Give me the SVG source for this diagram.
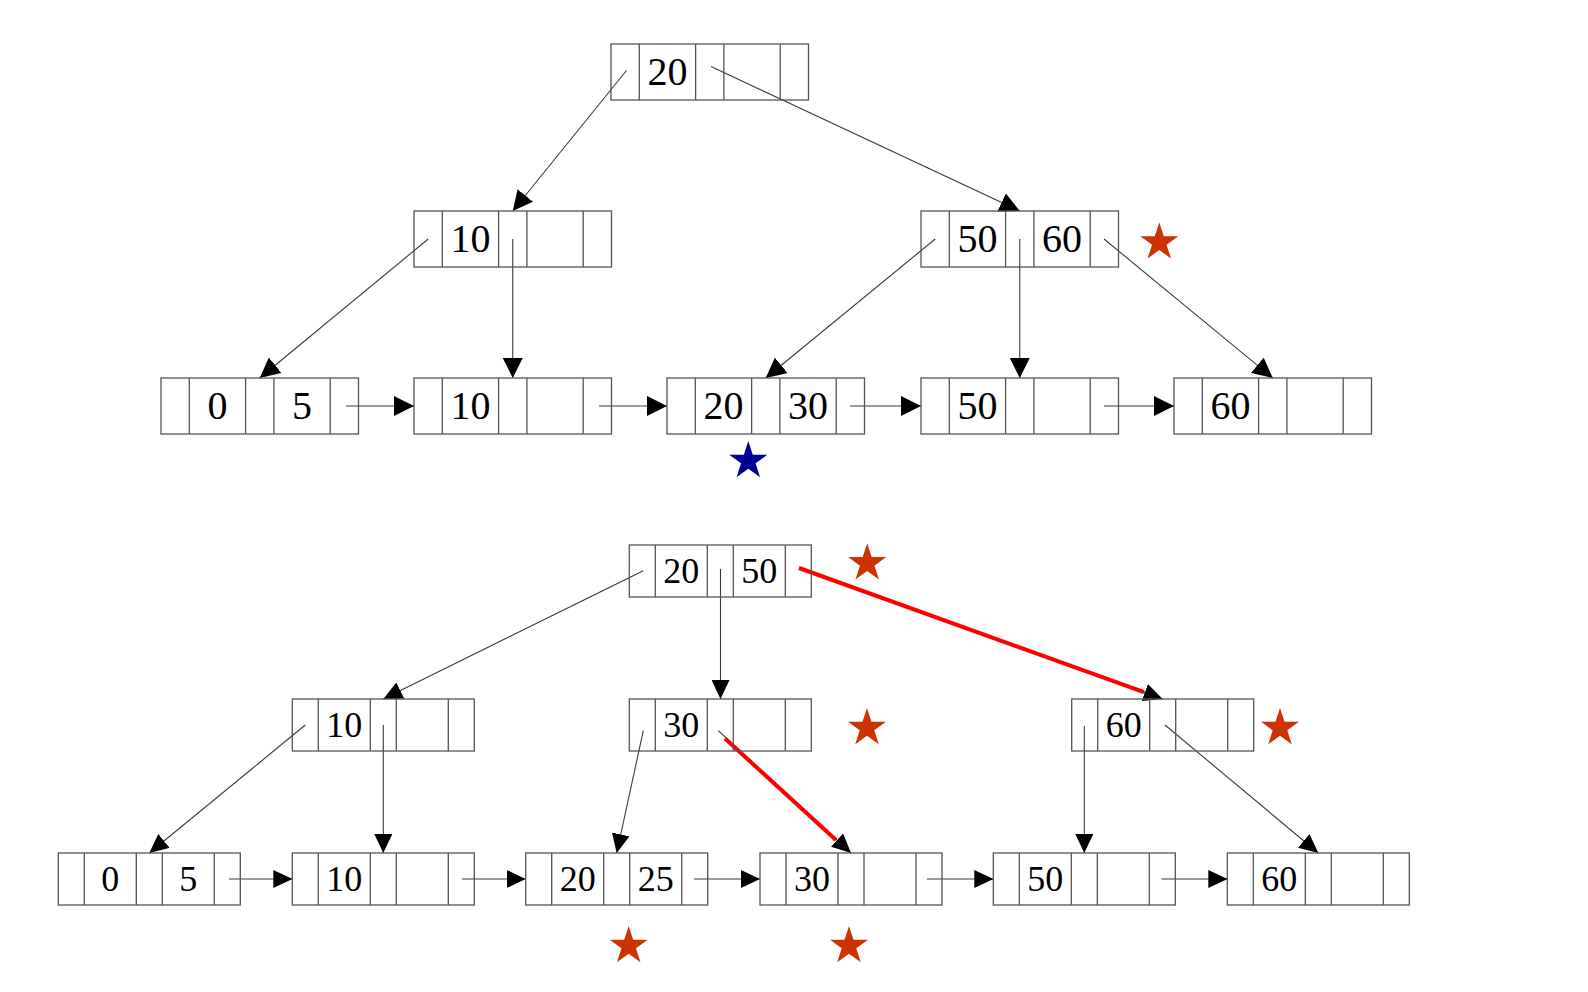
<svg xmlns="http://www.w3.org/2000/svg" xmlns:xlink="http://www.w3.org/1999/xlink" width="1588" height="992" viewBox="0 0 1588 992">
<style>
.fr{fill:none;stroke:#555;stroke-width:1.3}
.kt{font-family:"Liberation Serif","Times New Roman",serif;font-size:40px;fill:#000;text-anchor:middle}
.kb{font-family:"Liberation Serif","Times New Roman",serif;font-size:36px;fill:#000;text-anchor:middle}
.ct{fill:none;stroke:#3a3a3a;stroke-width:1.1;marker-end:url(#ahT)}
.cb{fill:none;stroke:#3a3a3a;stroke-width:1.1;marker-end:url(#ahB)}
.red{fill:none;stroke:#ff0000;stroke-width:4;stroke-linecap:butt}
.so{fill:#cc3300}
.sb{fill:#000099}
</style>
<defs>
<marker id="ahT" markerUnits="userSpaceOnUse" markerWidth="20" markerHeight="20" refX="20" refY="10" orient="auto" viewBox="0 0 20 20"><path d="M0,0 L20,10 L0,20 Z" fill="#000"/></marker>
<marker id="ahB" markerUnits="userSpaceOnUse" markerWidth="19" markerHeight="18" refX="19" refY="9" orient="auto" viewBox="0 0 19 18"><path d="M0,0 L19,9 L0,18 Z" fill="#000"/></marker>
<g id="frameT" class="fr"><rect x="0" y="0" width="197.5" height="56"/><path d="M28.3,0V56M84.6,0V56M112.9,0V56M169.2,0V56"/></g>
<g id="frameB" class="fr"><rect x="0" y="0" width="182" height="52"/><path d="M26,0V52M78,0V52M104,0V52M156,0V52"/></g>
<path id="star" d="M0,-20 L4.49,-6.18 L19.02,-6.18 L7.27,2.36 L11.76,16.18 L0,7.64 L-11.76,16.18 L-7.27,2.36 L-19.02,-6.18 L-4.49,-6.18 Z"/>
</defs>
<rect width="1588" height="992" fill="#fff"/>

<g id="connectors">
  <!-- top tree -->
  <path class="ct" d="M626.5,70.5 L512.75,211"/>
  <path class="ct" d="M711,66.5 L1019.75,211"/>
  <path class="ct" d="M428.2,239 L259.75,378"/>
  <path class="ct" d="M512.75,239 L512.75,378"/>
  <path class="ct" d="M935.2,239 L765.75,378"/>
  <path class="ct" d="M1019.75,239 L1019.75,378"/>
  <path class="ct" d="M1104,239 L1272.75,378"/>
  <path class="ct" d="M346,406 L414,406"/>
  <path class="ct" d="M599,406 L667,406"/>
  <path class="ct" d="M850,406 L921,406"/>
  <path class="ct" d="M1104,406 L1174,406"/>
  <!-- bottom tree -->
  <path class="cb" d="M643.3,570.7 L383.3,699"/>
  <path class="cb" d="M720.5,569 L720.5,699"/>
  <path class="cb" d="M799,568 L1162.7,699"/>
  <path class="cb" d="M305.3,725 L149.3,853"/>
  <path class="cb" d="M383.3,725 L383.3,853"/>
  <path class="cb" d="M643.3,730.7 L616.7,853"/>
  <path class="cb" d="M718.3,730.7 L851,853"/>
  <path class="cb" d="M1084.3,726 L1084.3,853"/>
  <path class="cb" d="M1165,725 L1318.3,853"/>
  <path class="cb" d="M229,879 L292.3,879"/>
  <path class="cb" d="M462,879 L525.7,879"/>
  <path class="cb" d="M694,879 L760,879"/>
  <path class="cb" d="M927,879 L993.3,879"/>
  <path class="cb" d="M1161.5,879 L1227.3,879"/>
  <path class="red" d="M799,568 L1144,692.2"/>
  <path class="red" d="M725,738.5 L836,840"/>
</g>

<!-- top tree nodes -->
<g id="t-root"><use xlink:href="#frameT" x="611" y="44"/><text class="kt" x="667.45" y="84.5">20</text></g>
<g id="t-n10"><use xlink:href="#frameT" x="414" y="211"/><text class="kt" x="470.45" y="251.5">10</text></g>
<g id="t-n5060"><use xlink:href="#frameT" x="921" y="211"/><text class="kt" x="977.45" y="251.5">50</text><text class="kt" x="1062.05" y="251.5">60</text></g>
<g id="t-l05"><use xlink:href="#frameT" x="161" y="378"/><text class="kt" x="217.45" y="418.5">0</text><text class="kt" x="302.05" y="418.5">5</text></g>
<g id="t-l10"><use xlink:href="#frameT" x="414" y="378"/><text class="kt" x="470.45" y="418.5">10</text></g>
<g id="t-l2030"><use xlink:href="#frameT" x="667" y="378"/><text class="kt" x="723.45" y="418.5">20</text><text class="kt" x="808.05" y="418.5">30</text></g>
<g id="t-l50"><use xlink:href="#frameT" x="921" y="378"/><text class="kt" x="977.45" y="418.5">50</text></g>
<g id="t-l60"><use xlink:href="#frameT" x="1174" y="378"/><text class="kt" x="1230.45" y="418.5">60</text></g>

<!-- bottom tree nodes -->
<g id="b-root"><use xlink:href="#frameB" x="629.3" y="545"/><text class="kb" x="681.3" y="582.5">20</text><text class="kb" x="759.3" y="582.5">50</text></g>
<g id="b-n10"><use xlink:href="#frameB" x="292.3" y="699"/><text class="kb" x="344.3" y="736.5">10</text></g>
<g id="b-n30"><use xlink:href="#frameB" x="629.3" y="699"/><text class="kb" x="681.3" y="736.5">30</text></g>
<g id="b-n60"><use xlink:href="#frameB" x="1071.7" y="699"/><text class="kb" x="1123.7" y="736.5">60</text></g>
<g id="b-l05"><use xlink:href="#frameB" x="58.3" y="853"/><text class="kb" x="110.3" y="890.5">0</text><text class="kb" x="188.3" y="890.5">5</text></g>
<g id="b-l10"><use xlink:href="#frameB" x="292.3" y="853"/><text class="kb" x="344.3" y="890.5">10</text></g>
<g id="b-l2025"><use xlink:href="#frameB" x="525.7" y="853"/><text class="kb" x="577.7" y="890.5">20</text><text class="kb" x="655.7" y="890.5">25</text></g>
<g id="b-l30"><use xlink:href="#frameB" x="760" y="853"/><text class="kb" x="812" y="890.5">30</text></g>
<g id="b-l50"><use xlink:href="#frameB" x="993.3" y="853"/><text class="kb" x="1045.3" y="890.5">50</text></g>
<g id="b-l60"><use xlink:href="#frameB" x="1227.3" y="853"/><text class="kb" x="1279.3" y="890.5">60</text></g>

<!-- stars -->
<g id="stars">
  <use xlink:href="#star" class="so" transform="translate(1159.3,242.4)"/>
  <use xlink:href="#star" class="sb" transform="translate(748.3,461)"/>
  <use xlink:href="#star" class="so" transform="translate(867.2,563.3)"/>
  <use xlink:href="#star" class="so" transform="translate(867,728)"/>
  <use xlink:href="#star" class="so" transform="translate(1280,728)"/>
  <use xlink:href="#star" class="so" transform="translate(628.7,946)"/>
  <use xlink:href="#star" class="so" transform="translate(849,946)"/>
</g>
</svg>
